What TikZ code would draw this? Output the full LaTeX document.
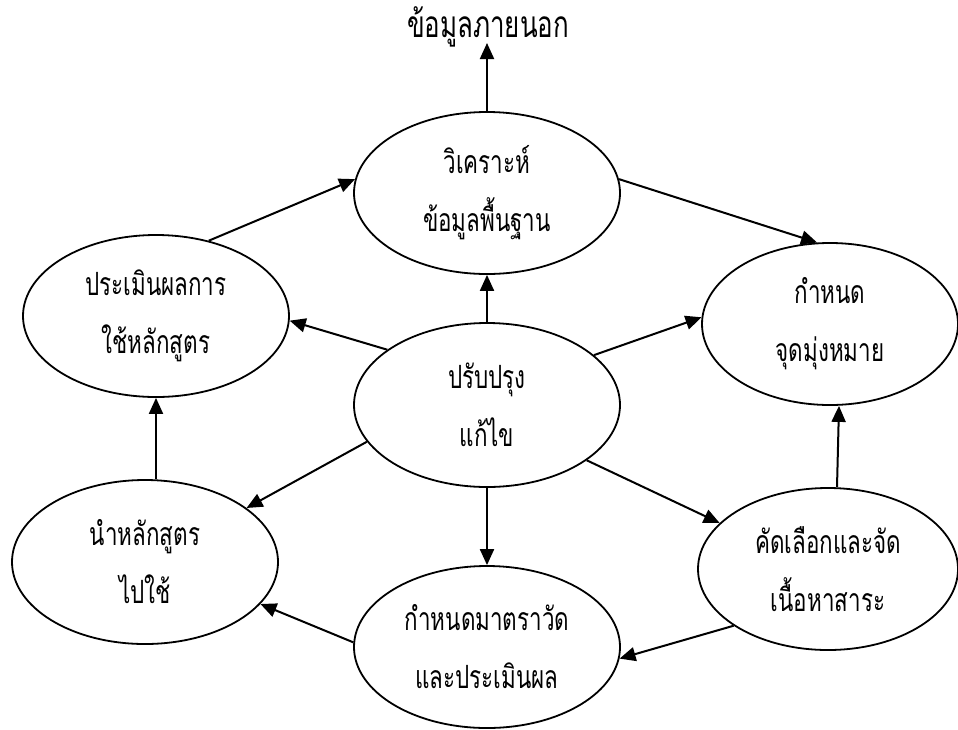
\documentclass[tikz,border=0pt]{standalone}
\usepackage{fontspec}
\usepackage{graphicx}
\newfontfamily\thaifont[Script=Thai]{Loma}
\newcommand\tx[1]{\scalebox{0.7}[1]{#1}}
\usetikzlibrary{shapes.geometric,arrows.meta}
\begin{document}
\begin{tikzpicture}[x=1pt,y=-1pt,
  oval/.style={ellipse,draw,line width=1.8pt,inner sep=0pt,minimum width=266pt,minimum height=162pt,align=center,font=\fontsize{32}{58}\selectfont\thaifont},
  arr/.style={line width=2pt,-{Triangle[length=16pt,width=14pt]}},
  lbl/.style={font=\fontsize{37}{40}\selectfont\thaifont}]
\useasboundingbox (0,0) rectangle (958,729);
\node[oval] (T)  at (487,193) {\tx{วิเคราะห์}\\\tx{ข้อมูลพื้นฐาน}};
\node[oval] (UL) at (156,316) {\tx{ประเมินผลการ}\\\tx{ใช้หลักสูตร}};
\node[oval,minimum width=256pt] (UR) at (830,324) {\tx{กำหนด}\\\tx{จุดมุ่งหมาย}};
\node[oval,minimum height=164pt] (C)  at (487,405) {\tx{ปรับปรุง}\\\tx{แก้ไข}};
\node[oval,minimum height=164pt] (LL) at (145,562) {\tx{นำหลักสูตร}\\\tx{ไปใช้}};
\node[oval,minimum width=260pt] (LR) at (828,569) {\tx{คัดเลือกและจัด}\\\tx{เนื้อหาสาระ}};
\node[oval] (B)  at (487,647) {\tx{กำหนดมาตราวัด}\\\tx{และประเมินผล}};
\node[lbl,inner sep=0pt] (ext) at (488,27) {\tx{ข้อมูลภายนอก}};
\coordinate (extb) at (487,43);
\draw[arr] (T.north) -- (extb);
\draw[arr] (C.north) -- (T.south);
\draw[arr] (T.6) -- (UR.99);
\draw[arr] (C.25) -- (UR.177);
\draw[arr] (UL.55) -- (T.174);
\draw[arr] (C.151) -- (UL.-2);
\draw[arr] (LL.north -| UL.south) -- (UL.south);
\draw[arr] (C.197) -- (LL.28);
\draw[arr] (C.south) -- (B.north);
\draw[arr] (C.-29) -- (LR.157);
\draw[arr] ([xshift=9pt]LR.north) -- ([xshift=9pt]UR.south);
\draw[arr] (LR.211) -- (B.-5);
\draw[arr] (B.178) -- (LL.-20);
\end{tikzpicture}
\end{document}
